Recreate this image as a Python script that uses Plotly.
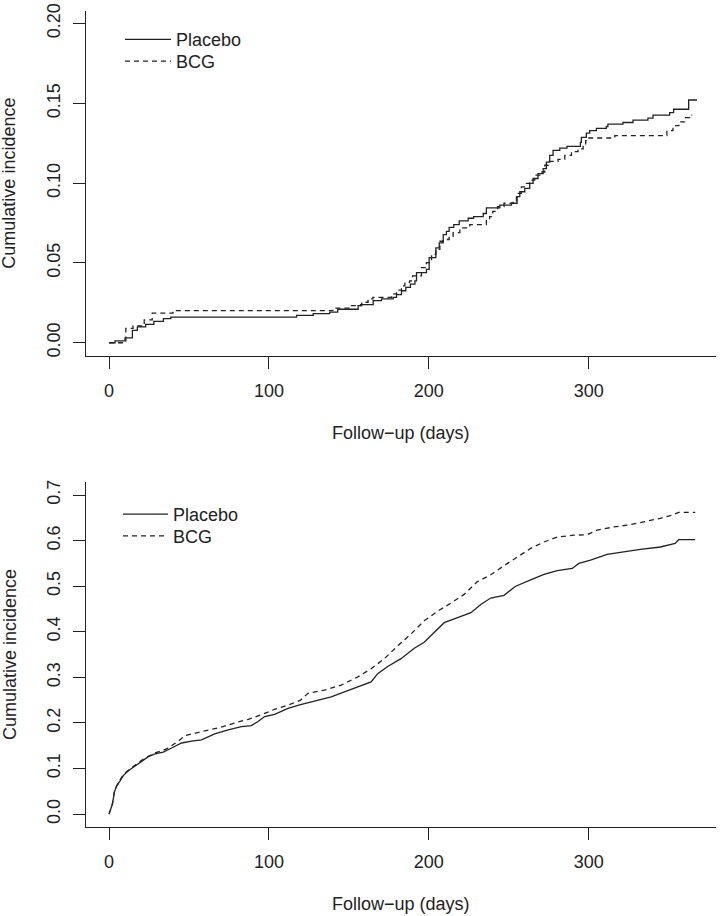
import plotly.graph_objects as go

# ---------------- data ----------------
# Panel 1 (top)
top_placebo_t = [0, 3.75, 10, 14.6, 17.7, 22.9, 28, 34, 38.6, 117.3, 127.7, 138, 143, 155.8, 157.3,
                 165.2, 170.4, 177.7, 179.8, 182.9, 185.6, 188.5, 191.3, 192.3, 198.5, 200.2, 204.4,
                 206.5, 209, 211, 212.7, 215.6, 219, 224.6, 228, 234, 236, 244.4, 251.7, 255.2, 256.9,
                 260, 263.1, 265.2, 268.3, 271.5, 273.5, 275.6, 277.7, 281.9, 286.4, 294.8, 295.4,
                 298.5, 300.6, 304.8, 311, 312, 321.4, 327.7, 337, 340.2, 350.6, 353.1, 362.5, 367.7]
top_placebo_v = [0, 0.0012, 0.0031, 0.0078, 0.0099, 0.0115, 0.0134, 0.0151, 0.0161, 0.0171, 0.0182,
                 0.0192, 0.0210, 0.0233, 0.0239, 0.0264, 0.0275, 0.0285, 0.0301, 0.0326, 0.0347,
                 0.0368, 0.0388, 0.0440, 0.0460, 0.0533, 0.0595, 0.0626, 0.0678, 0.0698, 0.0723,
                 0.0740, 0.0764, 0.0780, 0.0790, 0.0810, 0.0845, 0.0862, 0.0874, 0.0915, 0.0946,
                 0.0967, 0.0998, 0.1029, 0.1060, 0.1091, 0.1132, 0.1174, 0.1205, 0.1219, 0.1231,
                 0.1256, 0.1287, 0.1314, 0.1329, 0.1343, 0.1355, 0.1370, 0.1380, 0.1395, 0.1407,
                 0.1426, 0.1442, 0.1463, 0.1521, 0.1521]

top_bcg_t = [0, 10.5, 15, 22, 27, 40, 140, 150, 158, 162, 165, 176.7, 179.8, 182.9, 185, 188,
             189.8, 195.4, 198.5, 201.7, 204.4, 206.9, 209, 212.7, 215.2, 219.4, 225.6, 236, 238,
             240, 243, 247, 252.7, 254.8, 257.9, 261, 263, 266.2, 269.4, 272.5, 274.6, 280.8, 285,
             289.2, 293.3, 296.5, 298.1, 299.6, 316.3, 348.9, 352.7, 356.4, 360, 363.1, 364.8]
top_bcg_v = [0, 0.0090, 0.0105, 0.0143, 0.0186, 0.0202, 0.0217, 0.0233, 0.0254, 0.0275, 0.0285,
             0.0306, 0.0330, 0.0357, 0.0378, 0.0388, 0.0419, 0.0471, 0.0502, 0.0554, 0.0585,
             0.0636, 0.0647, 0.0667, 0.0690, 0.0720, 0.0740, 0.0770, 0.0790, 0.0823, 0.0853,
             0.0874, 0.0888, 0.0936, 0.0977, 0.0998, 0.1019, 0.1050, 0.1070, 0.1112, 0.1136,
             0.1149, 0.1174, 0.1198, 0.1215, 0.1236, 0.1267, 0.1283, 0.1298, 0.1329, 0.1360,
             0.1384, 0.1411, 0.1426, 0.1426]

# Panel 2 (bottom)
bot_placebo_t = [0, 2.1, 3.3, 4.8, 6.9, 9, 12.1, 16.2, 20.4, 24.6, 28.7, 33.9, 39.1, 45.4, 51.6,
                 57.8, 66.1, 74.5, 82.8, 89, 93.2, 97.3, 103.6, 111.9, 119.8, 130.6, 138.9, 147.2,
                 155.6, 163.9, 168, 174.3, 182.6, 190.9, 197.1, 203.4, 209.6, 218, 226.3, 232.5,
                 238.7, 247, 254.3, 263.7, 272, 280.3, 289.7, 293.8, 301.1, 311.5, 321.9, 332.3,
                 344.8, 354.1, 356.2, 366.6]
bot_placebo_v = [0, 0.022, 0.048, 0.062, 0.073, 0.085, 0.095, 0.105, 0.116, 0.126, 0.132, 0.136,
                 0.145, 0.156, 0.160, 0.163, 0.176, 0.185, 0.192, 0.194, 0.203, 0.214, 0.219,
                 0.232, 0.240, 0.249, 0.257, 0.268, 0.279, 0.290, 0.308, 0.324, 0.341, 0.364,
                 0.377, 0.398, 0.420, 0.431, 0.442, 0.460, 0.474, 0.480, 0.500, 0.514, 0.526,
                 0.534, 0.539, 0.550, 0.557, 0.570, 0.576, 0.581, 0.586, 0.594, 0.602, 0.602]

bot_bcg_t = [0, 2.1, 3.3, 4.8, 6.9, 9, 12.1, 16.2, 20.4, 24.6, 28.7, 33.9, 37, 43.3, 47.4, 57.8,
             70.3, 78.6, 87, 95.3, 103.6, 111.9, 119.8, 124.4, 134.7, 145.2, 155.6, 163.9, 172.2,
             180.5, 188.8, 197.1, 205.5, 213.8, 222.1, 230.4, 238.7, 247, 255.4, 263.7, 272, 280.3,
             290.7, 299, 305.3, 315.7, 326.1, 334.4, 344.8, 352.1, 356.2, 366.6]
bot_bcg_v = [0, 0.022, 0.048, 0.062, 0.075, 0.087, 0.096, 0.107, 0.118, 0.127, 0.134, 0.140,
             0.145, 0.160, 0.172, 0.181, 0.191, 0.200, 0.208, 0.218, 0.230, 0.239, 0.250, 0.265,
             0.272, 0.283, 0.301, 0.319, 0.341, 0.369, 0.395, 0.424, 0.445, 0.463, 0.482, 0.510,
             0.525, 0.545, 0.565, 0.583, 0.597, 0.608, 0.612, 0.613, 0.623, 0.630, 0.635, 0.641,
             0.649, 0.656, 0.662, 0.662]

x_ticks = [0, 100, 200, 300]
top_y_ticks = [0.00, 0.05, 0.10, 0.15, 0.20]
top_y_labels = ["0.00", "0.05", "0.10", "0.15", "0.20"]
bot_y_ticks = [0.0, 0.1, 0.2, 0.3, 0.4, 0.5, 0.6, 0.7]
bot_y_labels = ["0.0", "0.1", "0.2", "0.3", "0.4", "0.5", "0.6", "0.7"]
series_names = ["Placebo", "BCG"]
x_title = "Follow\u2212up (days)"
y_title = "Cumulative incidence"

# ---------------- figure ----------------
W, H = 721, 916
INK = "#222222"
FONT = dict(family="Liberation Sans, Arial, Helvetica, sans-serif", size=18, color=INK)

fig = go.Figure()
solid = dict(color=INK, width=1.3)
dashed = dict(color=INK, width=1.3, dash="5px,4px")

fig.add_trace(go.Scatter(x=top_placebo_t, y=top_placebo_v, mode="lines", line=dict(**solid, shape="hv"),
                         name=series_names[0], xaxis="x", yaxis="y", legend="legend"))
fig.add_trace(go.Scatter(x=top_bcg_t, y=top_bcg_v, mode="lines", line=dict(**dashed, shape="hv"),
                         name=series_names[1], xaxis="x", yaxis="y", legend="legend2"))
fig.add_trace(go.Scatter(x=bot_placebo_t, y=bot_placebo_v, mode="lines", line=dict(**solid, shape="linear"),
                         name=series_names[0], xaxis="x2", yaxis="y2", legend="legend3"))
fig.add_trace(go.Scatter(x=bot_bcg_t, y=bot_bcg_v, mode="lines", line=dict(**dashed, shape="linear"),
                         name=series_names[1], xaxis="x2", yaxis="y2", legend="legend4"))

xdom = [85.7 / W, 716 / W]
top_dom = [1 - 352 / H, 1 - 3.8 / H]
bot_dom = [1 - 828 / H, 1 - 480 / H]

axis_common = dict(showline=True, linecolor=INK, linewidth=1, ticks="outside", ticklen=12,
                   tickwidth=1, tickcolor=INK, showgrid=False, zeroline=False, tickfont=FONT,
                   ticklabeloverflow="allow")


def leg(xpx, ypx, iw):
    return dict(x=xpx / W, y=1 - ypx / H, xanchor="left", yanchor="middle",
                bgcolor="rgba(0,0,0,0)", font=FONT, itemwidth=iw, borderwidth=0)


fig.update_layout(
    width=W, height=H, margin=dict(l=0, r=0, t=0, b=0),
    paper_bgcolor="white", plot_bgcolor="white", font=FONT,
    xaxis=dict(domain=xdom, range=[-14.6, 379.6], anchor="y", tickvals=x_ticks,
               ticklabelstandoff=7, **axis_common),
    yaxis=dict(domain=top_dom, range=[-0.008, 0.208], anchor="x", tickvals=top_y_ticks,
               ticktext=top_y_labels, tickangle=-90, ticklabelstandoff=6, **axis_common),
    xaxis2=dict(domain=xdom, range=[-14.6, 379.6], anchor="y2", tickvals=x_ticks,
                ticklabelstandoff=7, **axis_common),
    yaxis2=dict(domain=bot_dom, range=[-0.028, 0.728], anchor="x2", tickvals=bot_y_ticks,
                ticktext=bot_y_labels, tickangle=-90, ticklabelstandoff=6, **axis_common),
    legend=leg(120, 33, 46),
    legend2=leg(120, 55, 46),
    legend3=leg(118, 512.5, 45),
    legend4=leg(118, 534.5, 45),
    showlegend=True,
)

# axis titles
for yc in [(3.8 + 352) / 2, (480 + 828) / 2]:
    fig.add_annotation(text=y_title, xref="paper", yref="paper", x=9.5 / W, y=1 - yc / H,
                       textangle=-90, showarrow=False, font=FONT, xanchor="center", yanchor="middle")
for yc in [430, 906]:
    fig.add_annotation(text=x_title, xref="paper", yref="paper", x=401 / W, y=1 - yc / H,
                       showarrow=False, font=FONT, xanchor="center", yanchor="middle")

fig.write_html("out.html", config={"displayModeBar": False},
               post_script="document.body.style.margin='0px';document.body.style.overflow='hidden';")
